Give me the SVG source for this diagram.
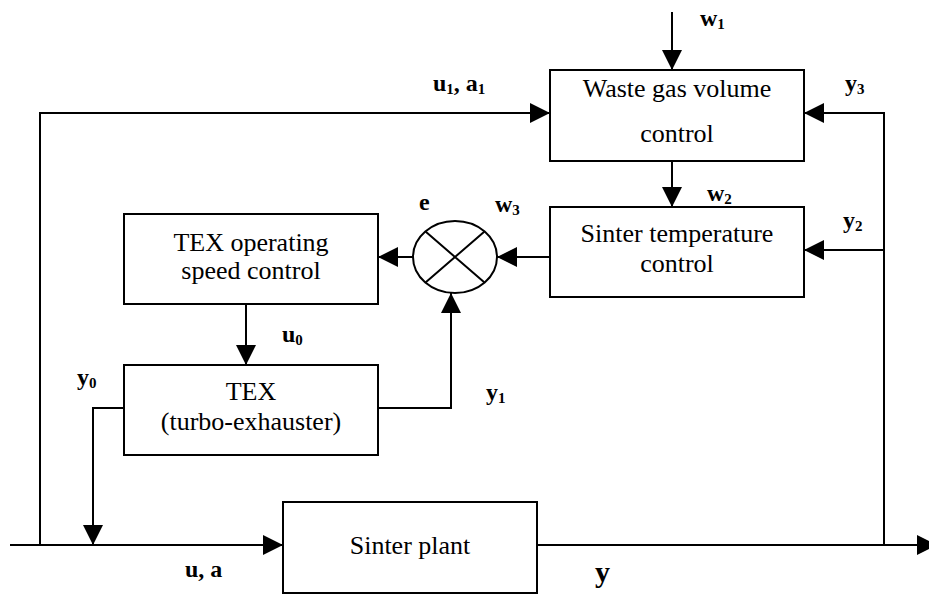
<svg xmlns="http://www.w3.org/2000/svg" width="929" height="594" viewBox="0 0 929 594">
<style>
.box{fill:#fff;stroke:#000;stroke-width:2}
.ln{fill:none;stroke:#000;stroke-width:2;marker-end:url(#ah)}
.pl{fill:none;stroke:#000;stroke-width:2}
.t{font-family:'Liberation Serif','Times New Roman',Tinos,Times,'DejaVu Serif',serif;font-size:26px;fill:#000;text-anchor:middle}
.lb{font-family:'Liberation Serif','Times New Roman',Tinos,Times,'DejaVu Serif',serif;font-size:24px;font-weight:bold;fill:#000}
.sub{font-size:15px}
</style>
<defs>
<marker id="ah" markerUnits="userSpaceOnUse" markerWidth="21" markerHeight="21" refX="20" refY="10" orient="auto" viewBox="0 0 21 21">
<path d="M0,0 L20,10 L0,20 z" fill="#000"/>
</marker>
</defs>
<rect width="929" height="594" fill="#fff"/>

<g id="connectors">
<path class="ln" d="M672,12 V70"/>
<path class="ln" d="M40,545 V113 H550"/>
<path class="ln" d="M884,545 V113 H804"/>
<path class="ln" d="M672,161 V207"/>
<path class="ln" d="M884,250 H804"/>
<path class="ln" d="M550,257 H497"/>
<path class="ln" d="M413,257 H378"/>
<path class="ln" d="M246,305 V365"/>
<path class="ln" d="M375,408 H451 V293"/>
<path class="ln" d="M124,408 H93 V545"/>
<path class="ln" d="M10,545 H283"/>
<path class="ln" d="M535,545 H937"/>
</g>

<g id="waste-gas">
<rect class="box" x="550" y="70" width="254" height="91"/>
<text class="t" x="677" y="97" font-family="Liberation Serif, serif">Waste gas volume</text>
<text class="t" x="677" y="142" font-family="Liberation Serif, serif">control</text>
</g>

<g id="sinter-temp">
<rect class="box" x="550" y="207" width="254" height="90"/>
<text class="t" x="677" y="242">Sinter temperature</text>
<text class="t" x="677" y="272">control</text>
</g>

<g id="comparator">
<ellipse cx="455" cy="257" rx="42" ry="36" fill="#fff" stroke="#000" stroke-width="2"/>
<path class="pl" d="M425.5,231.5 L484.5,282.5 M484.5,231.5 L425.5,282.5"/>
</g>

<g id="tex-speed">
<rect class="box" x="124" y="214" width="254" height="90"/>
<text class="t" x="251" y="251">TEX operating</text>
<text class="t" x="251" y="279">speed control</text>
</g>

<g id="tex">
<rect class="box" x="124" y="365" width="254" height="90"/>
<text class="t" x="251" y="400">TEX</text>
<text class="t" x="251" y="430">(turbo-exhauster)</text>
</g>

<g id="sinter-plant">
<rect class="box" x="283" y="502" width="254" height="91"/>
<text class="t" x="410" y="554">Sinter plant</text>
</g>

<g id="labels">
<text class="lb" x="700" y="26">w<tspan class="sub" dy="3">1</tspan></text>
<text class="lb" x="433" y="91">u<tspan class="sub" dy="3">1</tspan><tspan dy="-3">, a</tspan><tspan class="sub" dy="3">1</tspan></text>
<text class="lb" x="845" y="91">y<tspan class="sub" dy="3">3</tspan></text>
<text class="lb" x="707" y="201">w<tspan class="sub" dy="3">2</tspan></text>
<text class="lb" x="419" y="210">e</text>
<text class="lb" x="495" y="212">w<tspan class="sub" dy="3">3</tspan></text>
<text class="lb" x="843" y="228">y<tspan class="sub" dy="3">2</tspan></text>
<text class="lb" x="282" y="342">u<tspan class="sub" dy="3">0</tspan></text>
<text class="lb" x="77" y="385">y<tspan class="sub" dy="3">0</tspan></text>
<text class="lb" x="486" y="400">y<tspan class="sub" dy="3">1</tspan></text>
<text class="lb" x="185" y="577">u, a</text>
<text class="lb" x="595" y="582" style="font-size:30px">y</text>
</g>
</svg>
